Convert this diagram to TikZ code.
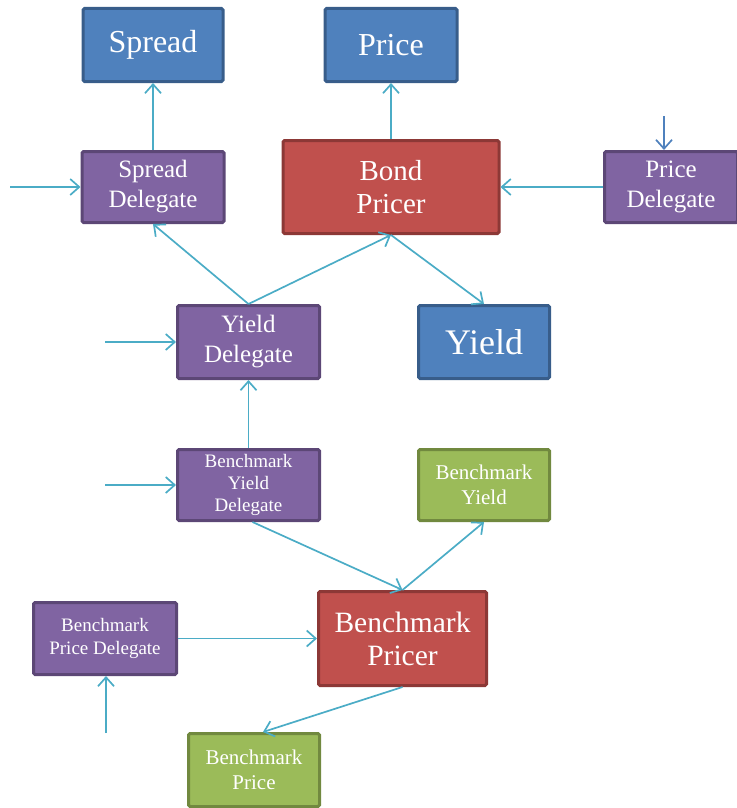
\documentclass[tikz,border=0pt]{standalone}
\usepackage{fontspec}
\setmainfont{Liberation Serif}
\usetikzlibrary{arrows.meta,positioning}
\definecolor{outblue}{HTML}{4F81BD}
\definecolor{outblueline}{HTML}{385D8A}
\definecolor{delpurple}{HTML}{8064A2}
\definecolor{delpurpleline}{HTML}{5C4776}
\definecolor{pricerred}{HTML}{C0504D}
\definecolor{pricerredline}{HTML}{8C3836}
\definecolor{benchgreen}{HTML}{9BBB59}
\definecolor{benchgreenline}{HTML}{71893F}
\definecolor{linkblue}{HTML}{4BACC6}
\begin{document}
\begin{tikzpicture}[x=1pt,y=-1pt,
box/.style={draw,line width=3pt,rounded corners=1.5pt,align=center,text=white,inner sep=1pt},
output/.style={box,fill=outblue,draw=outblueline},
delegate/.style={box,fill=delpurple,draw=delpurpleline},
pricer/.style={box,fill=pricerred,draw=pricerredline},
bench/.style={box,fill=benchgreen,draw=benchgreenline},
link/.style={-{Straight Barb[length=9pt,width=16pt]},draw=linkblue,line width=1.7pt}]
\useasboundingbox (0,0) rectangle (736,808);
% outputs
\node[output,minimum width=140pt,minimum height=73pt,font=\fontsize{32}{36}\selectfont] (spread) at (153,45) {Spread};
\node[output,minimum width=132pt,minimum height=73pt,font=\fontsize{32}{36}\selectfont] (price) at (391,45) {Price};
\node[output,minimum width=131pt,minimum height=73pt,font=\fontsize{36}{40}\selectfont] (yield) at (484,342) {Yield};
% delegates
\node[delegate,minimum width=142pt,minimum height=71pt,font=\fontsize{25}{30}\selectfont] (spreaddel) at (153,187) {Spread\\Delegate};
\node[delegate,minimum width=133pt,minimum height=71pt,font=\fontsize{25}{30}\selectfont] (pricedel) at (671,187) {Price\\Delegate};
\node[delegate,minimum width=142pt,minimum height=73pt,font=\fontsize{25}{30}\selectfont] (yielddel) at (248.5,342) {Yield\\Delegate};
\node[delegate,minimum width=142pt,minimum height=71pt,font=\fontsize{19}{22}\selectfont] (bmyielddel) at (248.5,485) {Benchmark\\Yield\\Delegate};
\node[delegate,minimum width=143pt,minimum height=72pt,font=\fontsize{19}{23}\selectfont] (bmpricedel) at (105,638.5) {Benchmark\\Price Delegate};
% pricers
\node[pricer,minimum width=216pt,minimum height=93pt,font=\fontsize{29}{33}\selectfont] (bondpricer) at (391,187) {Bond\\Pricer};
\node[pricer,minimum width=168pt,minimum height=94pt,font=\fontsize{29.5}{33}\selectfont] (bmpricer) at (402.5,638.5) {Benchmark\\Pricer};
% benchmark outputs
\node[bench,minimum width=131pt,minimum height=71pt,font=\fontsize{21}{25}\selectfont] (bmyield) at (484,485) {Benchmark\\Yield};
\node[bench,minimum width=131pt,minimum height=73pt,font=\fontsize{21}{25}\selectfont] (bmprice) at (254,770) {Benchmark\\Price};
% free inputs
\coordinate (inspread) at (10,187);
\coordinate (inprice) at (664,116);
\coordinate (inyield) at (105,342);
\coordinate (inbmyield) at (105,485);
\coordinate (inbmprice) at (106,733);
\foreach \a/\b in {spreaddel.north/spread.south,bondpricer.north/price.south,
inspread/spreaddel.west,pricedel.west/bondpricer.east,
yielddel.north/spreaddel.south,yielddel.north/bondpricer.south,bondpricer.south/yield.north,
inyield/yielddel.west,bmyielddel.north/yielddel.south,inbmyield/bmyielddel.west,
bmpricer.north/bmyield.south,bmpricedel.east/bmpricer.west}
\draw[link] (\a)--(\b);
\draw[link] ([xshift=4pt]bmyielddel.south)--(bmpricer.north);
\draw[link] (inbmprice)--(inbmprice |- bmpricedel.south);
\draw[link] (bmpricer.south)--([xshift=9pt]bmprice.north);
\draw[link,draw=outblue] (inprice)--(inprice |- pricedel.north);
\end{tikzpicture}
\end{document}
